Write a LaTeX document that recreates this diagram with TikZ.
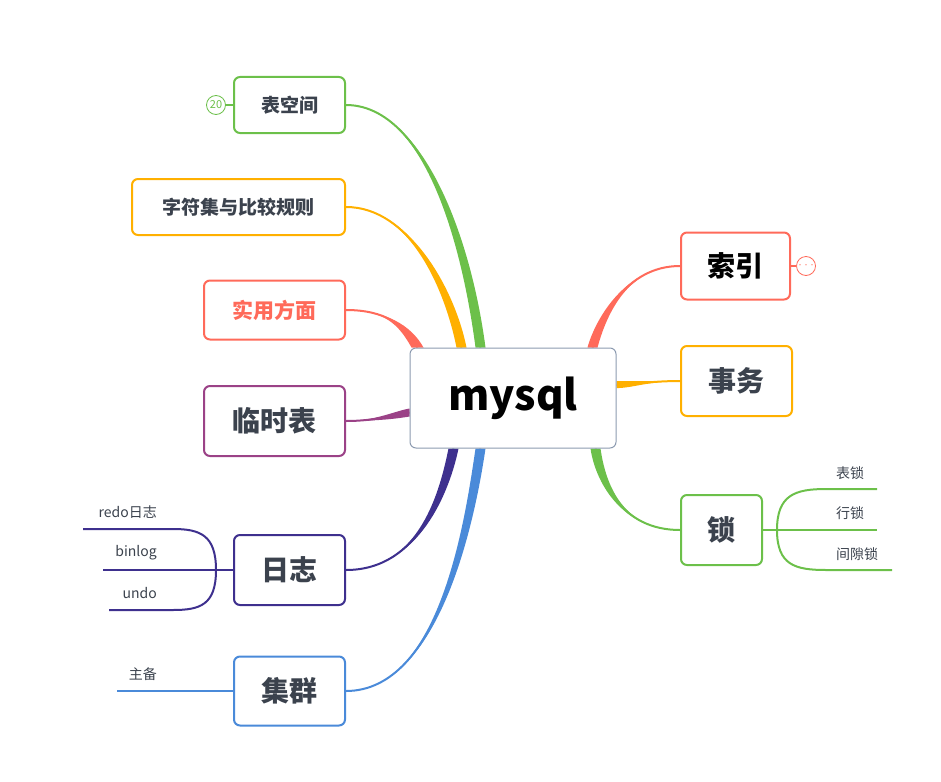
\documentclass[tikz,border=0pt]{standalone}
\usepackage{fontspec}
\setmainfont{Noto Sans CJK SC}
\usepackage{tikz}
\usetikzlibrary{positioning,calc,backgrounds}
\definecolor{topicgreen}{RGB}{108,192,74}
\definecolor{topicorange}{RGB}{255,176,0}
\definecolor{topicred}{RGB}{255,106,90}
\definecolor{topicpurple}{RGB}{155,66,135}
\definecolor{topicindigo}{RGB}{62,48,142}
\definecolor{topicblue}{RGB}{74,138,217}
\definecolor{rootgray}{RGB}{140,155,176}
\definecolor{textgray}{RGB}{59,66,77}

% tapered branch: colour, start, control 1, control 2, end, half width
\newcommand{\taper}[6]{%
  \fill[#1] (#2) .. controls (#3) and ($(#4)+(#6)$) .. ($(#5)+(#6)$) -- ($(#5)-(#6)$) .. controls ($(#4)-(#6)$) and (#3) .. (#2) -- cycle;
  \draw[#1, line width=2pt] (#2) .. controls (#3) and (#4) .. (#5);
}

\begin{document}
\begin{tikzpicture}[
    x=1pt, y=-1pt,
    root/.style={rectangle, draw=rootgray, line width=1pt, rounded corners=6pt, fill=white,
      minimum width=206pt, minimum height=100pt, font=\fontsize{42}{50}\selectfont\bfseries},
    topic/.style={rectangle, draw=#1, line width=2pt, rounded corners=6pt, fill=white,
      text=textgray, inner sep=0pt, font=\fontsize{28}{34}\selectfont\bfseries},
    small/.style={font=\fontsize{19}{23}\selectfont\bfseries},
    leaf/.style={text=textgray, inner sep=1pt, font=\fontsize{14}{17}\selectfont},
    leafline/.style={line width=2pt},
    badge/.style={circle, draw=#1, line width=0.8pt, fill=white, minimum size=19pt, inner sep=0pt,
      text=#1, font=\fontsize{11}{12}\selectfont}
]
    \useasboundingbox (0,0) rectangle (941,781);

    % Root
    \node[root] (c) at (513,398) {mysql};

    % Left topics
    \node[topic=topicgreen, small, minimum width=111pt, minimum height=56pt, anchor=east] (space) at (346,105) {表空间};
    \node[topic=topicorange, small, minimum width=213pt, minimum height=56pt, anchor=east] (charset) at (346,207) {字符集与比较规则};
    \node[topic=topicred, text=topicred, font=\fontsize{21}{25}\selectfont\bfseries, minimum width=141pt, minimum height=59pt, anchor=east] (usage) at (346,310) {实用方面};
    \node[topic=topicpurple, minimum width=141pt, minimum height=70pt, anchor=east] (temp) at (346,421) {临时表};
    \node[topic=topicindigo, minimum width=111pt, minimum height=70pt, anchor=east] (log) at (346,570) {日志};
    \node[topic=topicblue, minimum width=111pt, minimum height=69pt, anchor=east] (cluster) at (346,691) {集群};

    % Right topics
    \node[topic=topicred, text=black, minimum width=109pt, minimum height=67pt, anchor=west] (index) at (680,266) {索引};
    \node[topic=topicorange, minimum width=111pt, minimum height=70pt, anchor=west] (trans) at (680,381) {事务};
    \node[topic=topicgreen, minimum width=81pt, minimum height=70pt, anchor=west] (lock) at (680,530) {锁};

    % Badges
    \node[badge=topicgreen] (spacecount) at (216,105) {20};
    \draw[topicgreen, line width=1.5pt] (spacecount) -- (space);
    \node[badge=topicred, font=\fontsize{6}{6}\selectfont] (indexmore) at (806,266) {···};
    \draw[topicred, line width=1.5pt] (index) -- (indexmore);

    % Branch ends on the root
    \coordinate (e1) at ($(c.north west)+(71,0)$);
    \coordinate (e2) at ($(c.north west)+(52,0)$);
    \coordinate (e3) at ($(c.north west)+(8,0)$);
    \coordinate (e4) at ($(c.north west)+(0,65)$);
    \coordinate (e5) at ($(c.south west)+(44,0)$);
    \coordinate (e6) at ($(c.south west)+(71,0)$);
    \coordinate (e7) at ($(c.north east)+(-24,0)$);
    \coordinate (e8) at ($(c.north east)+(0,37)$);
    \coordinate (e9) at ($(c.south east)+(-21,0)$);

    \begin{scope}[on background layer]
        \taper{topicgreen}{space.east}{420,105}{465,230}{e1}{5,0}
        \taper{topicorange}{charset.east}{410,207}{450,290}{e2}{5,0}
        \taper{topicred}{usage.east}{385,310}{405,325}{e3}{6,0}
        \taper{topicpurple}{temp.east}{375,421}{395,415}{e4}{0,4}
        \taper{topicindigo}{log.east}{420,570}{445,490}{e5}{5,0}
        \taper{topicblue}{cluster.east}{440,691}{470,520}{e6}{5,0}
        \taper{topicred}{index.west}{625,266}{600,320}{e7}{5,0}
        \taper{topicorange}{trans.west}{650,381}{630,385}{e8}{0,3.5}
        \taper{topicgreen}{lock.west}{620,530}{600,480}{e9}{5,0}
    \end{scope}

    % Lock leaves
    \coordinate (lockfork) at (777,530);
    \coordinate (tablelock) at (877,489);
    \coordinate (rowlock) at (877,530);
    \coordinate (gaplock) at (892,570);
    \draw[topicgreen, leafline] (lock.east) -- (lockfork);
    \draw[topicgreen, leafline] (lockfork) .. controls (777,495) and (795,489) .. (826,489) -- (tablelock);
    \draw[topicgreen, leafline] (lockfork) -- (rowlock);
    \draw[topicgreen, leafline] (lockfork) .. controls (777,565) and (795,570) .. (826,570) -- (gaplock);
    \node[leaf, anchor=west] (tablelocklabel) at (835,473) {表锁};
    \node[leaf, anchor=west] (rowlocklabel) at (835,513) {行锁};
    \node[leaf, anchor=west] (gaplocklabel) at (835,554) {间隙锁};

    % Log leaves
    \coordinate (logfork) at (216,570);
    \coordinate (redo) at (83,529);
    \coordinate (binlog) at (103,570);
    \coordinate (undo) at (109,610);
    \draw[topicindigo, leafline] (log.west) -- (logfork);
    \draw[topicindigo, leafline] (logfork) .. controls (216,535) and (200,529) .. (173,529) -- (redo);
    \draw[topicindigo, leafline] (logfork) -- (binlog);
    \draw[topicindigo, leafline] (logfork) .. controls (216,605) and (200,610) .. (173,610) -- (undo);
    \node[leaf, anchor=east] (redolabel) at (158,512) {redo日志};
    \node[leaf, anchor=east] (binloglabel) at (158,553) {binlog};
    \node[leaf, anchor=east] (undolabel) at (158,593) {undo};

    % Cluster leaf
    \coordinate (standby) at (117,691);
    \draw[topicblue, leafline] (cluster.west) -- (standby);
    \node[leaf, anchor=east] (standbylabel) at (158,674) {主备};
\end{tikzpicture}
\end{document}
